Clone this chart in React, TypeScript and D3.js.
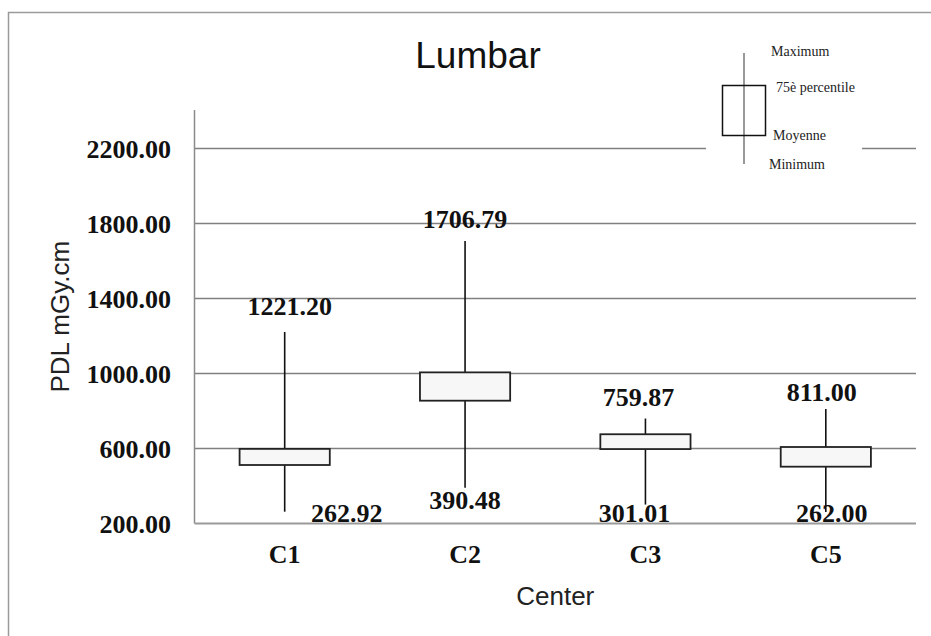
import React, { useEffect, useRef } from "react";
import * as d3 from "d3";

// values
const centers = ["C1", "C2", "C3", "C5"];
const maxValues = [1221.2, 1706.79, 759.87, 811.0];
const p75Values = [598, 1006, 676, 608];
const meanValues = [512, 855, 597, 503];
const minValues = [262.92, 390.48, 301.01, 262.0];
const yTicks = [200, 600, 1000, 1400, 1800, 2200];

// label nudges (px), layout only
const maxLabelDx = [5, 0, -7, -4];
const maxLabelDy = [-17, -13, -13, -8];
const minLabelDx = [62, 0, -11, 6];

const legendItems = ["Maximum", "75è percentile", "Moyenne", "Minimum"];

const W = 931;
const H = 636;

export default function App() {
  const ref = useRef<SVGSVGElement | null>(null);

  useEffect(() => {
    const svg = d3.select(ref.current);
    svg.selectAll("*").remove();

    const left = 194.5;
    const right = 916;
    const top = 110;
    const bottom = 523.5;

    const x = d3.scaleBand().domain(centers).range([left, right]);
    const y = d3.scaleLinear().domain([200, 2200]).range([bottom, 148.5]);

    const data = centers.map((c, i) => ({
      c,
      max: maxValues[i],
      p75: p75Values[i],
      mean: meanValues[i],
      min: minValues[i],
      i,
    }));

    // outer frame (cut off at the right and bottom)
    svg.append("rect")
      .attr("x", 8.5).attr("y", 12.5)
      .attr("width", W + 20).attr("height", H + 20)
      .attr("fill", "#fff")
      .attr("stroke", "#9a9a9a")
      .attr("stroke-width", 1.5);

    // gridlines
    svg.append("g")
      .selectAll("line")
      .data(yTicks.filter((t) => t > 200))
      .join("line")
      .attr("x1", left).attr("x2", right)
      .attr("y1", (d) => y(d)).attr("y2", (d) => y(d))
      .attr("stroke", "#808080")
      .attr("stroke-width", 1.3);

    // axes lines
    svg.append("line")
      .attr("x1", left).attr("x2", left)
      .attr("y1", top).attr("y2", bottom)
      .attr("stroke", "#8a8a8a").attr("stroke-width", 1.5);
    svg.append("line")
      .attr("x1", left).attr("x2", right)
      .attr("y1", bottom).attr("y2", bottom)
      .attr("stroke", "#9a9a9a").attr("stroke-width", 2);

    // y tick labels
    svg.append("g")
      .selectAll("text")
      .data(yTicks)
      .join("text")
      .attr("x", 171)
      .attr("y", (d) => y(d))
      .attr("dy", "0.35em")
      .attr("text-anchor", "end")
      .attr("font-family", "Liberation Serif, serif")
      .attr("font-weight", "bold")
      .attr("font-size", 26)
      .attr("fill", "#111")
      .text((d) => d.toFixed(2));

    // x tick labels
    svg.append("g")
      .selectAll("text")
      .data(centers)
      .join("text")
      .attr("x", (d) => x(d)! + x.bandwidth() / 2)
      .attr("y", 563)
      .attr("text-anchor", "middle")
      .attr("font-family", "Liberation Serif, serif")
      .attr("font-weight", "bold")
      .attr("font-size", 26)
      .attr("fill", "#111")
      .text((d) => d);

    // boxes
    const boxW = x.bandwidth() / 2;
    const g = svg.append("g");
    const cx = (d: any) => x(d.c)! + x.bandwidth() / 2;

    g.selectAll("line.whisker")
      .data(data)
      .join("line")
      .attr("class", "whisker")
      .attr("x1", cx).attr("x2", cx)
      .attr("y1", (d) => y(d.max)).attr("y2", (d) => y(d.min))
      .attr("stroke", "#111")
      .attr("stroke-width", 1.6);

    g.selectAll("rect.box")
      .data(data)
      .join("rect")
      .attr("class", "box")
      .attr("x", (d) => cx(d) - boxW / 2)
      .attr("y", (d) => y(d.p75))
      .attr("width", boxW)
      .attr("height", (d) => y(d.mean) - y(d.p75))
      .attr("fill", "#f7f7f7")
      .attr("stroke", "#222")
      .attr("stroke-width", 1.8);

    // value labels
    g.selectAll("text.maxl")
      .data(data)
      .join("text")
      .attr("class", "maxl")
      .attr("x", (d) => cx(d) + maxLabelDx[d.i])
      .attr("y", (d) => y(d.max) + maxLabelDy[d.i])
      .attr("text-anchor", "middle")
      .attr("font-family", "Liberation Serif, serif")
      .attr("font-weight", "bold")
      .attr("font-size", 26)
      .attr("fill", "#111")
      .text((d) => d.max.toFixed(2));

    g.selectAll("text.minl")
      .data(data)
      .join("text")
      .attr("class", "minl")
      .attr("x", (d) => cx(d) + minLabelDx[d.i])
      .attr("y", (d) => Math.min(y(d.min) + 21, 522))
      .attr("text-anchor", "middle")
      .attr("font-family", "Liberation Serif, serif")
      .attr("font-weight", "bold")
      .attr("font-size", 26)
      .attr("fill", "#111")
      .text((d) => d.min.toFixed(2));

    // titles
    svg.append("text")
      .attr("x", 478).attr("y", 68)
      .attr("text-anchor", "middle")
      .attr("font-family", "Liberation Sans, Arial, sans-serif")
      .attr("font-size", 37)
      .attr("fill", "#111")
      .text("Lumbar");

    svg.append("text")
      .attr("x", (left + right) / 2).attr("y", 605)
      .attr("text-anchor", "middle")
      .attr("font-family", "Liberation Sans, Arial, sans-serif")
      .attr("font-size", 26)
      .attr("fill", "#222")
      .text("Center");

    svg.append("text")
      .attr("transform", `translate(69, ${(top + bottom) / 2}) rotate(-90)`)
      .attr("text-anchor", "middle")
      .attr("font-family", "Liberation Sans, Arial, sans-serif")
      .attr("font-size", 26)
      .attr("fill", "#222")
      .text("PDL mGy.cm");

    // legend
    const lg = svg.append("g");
    lg.append("rect")
      .attr("x", 706).attr("y", 40)
      .attr("width", 156).attr("height", 135)
      .attr("fill", "#fff");
    lg.append("line")
      .attr("x1", 744).attr("x2", 744)
      .attr("y1", 53).attr("y2", 164)
      .attr("stroke", "#777").attr("stroke-width", 1.5);
    lg.append("rect")
      .attr("x", 722.5).attr("y", 85.5)
      .attr("width", 43).attr("height", 50)
      .attr("fill", "none")
      .attr("stroke", "#111").attr("stroke-width", 1.5);
    const legendPos = [
      [771, 56],
      [776, 92],
      [773, 140],
      [769, 169],
    ];
    lg.selectAll("text")
      .data(legendItems)
      .join("text")
      .attr("x", (_, i) => legendPos[i][0])
      .attr("y", (_, i) => legendPos[i][1])
      .attr("font-family", "Liberation Serif, serif")
      .attr("font-size", 14)
      .attr("fill", "#222")
      .text((d) => d);
  }, []);

  return (
    <svg
      ref={ref}
      width={W}
      height={H}
      style={{ position: "absolute", left: 0, top: 0, background: "#fff" }}
    />
  );
}
